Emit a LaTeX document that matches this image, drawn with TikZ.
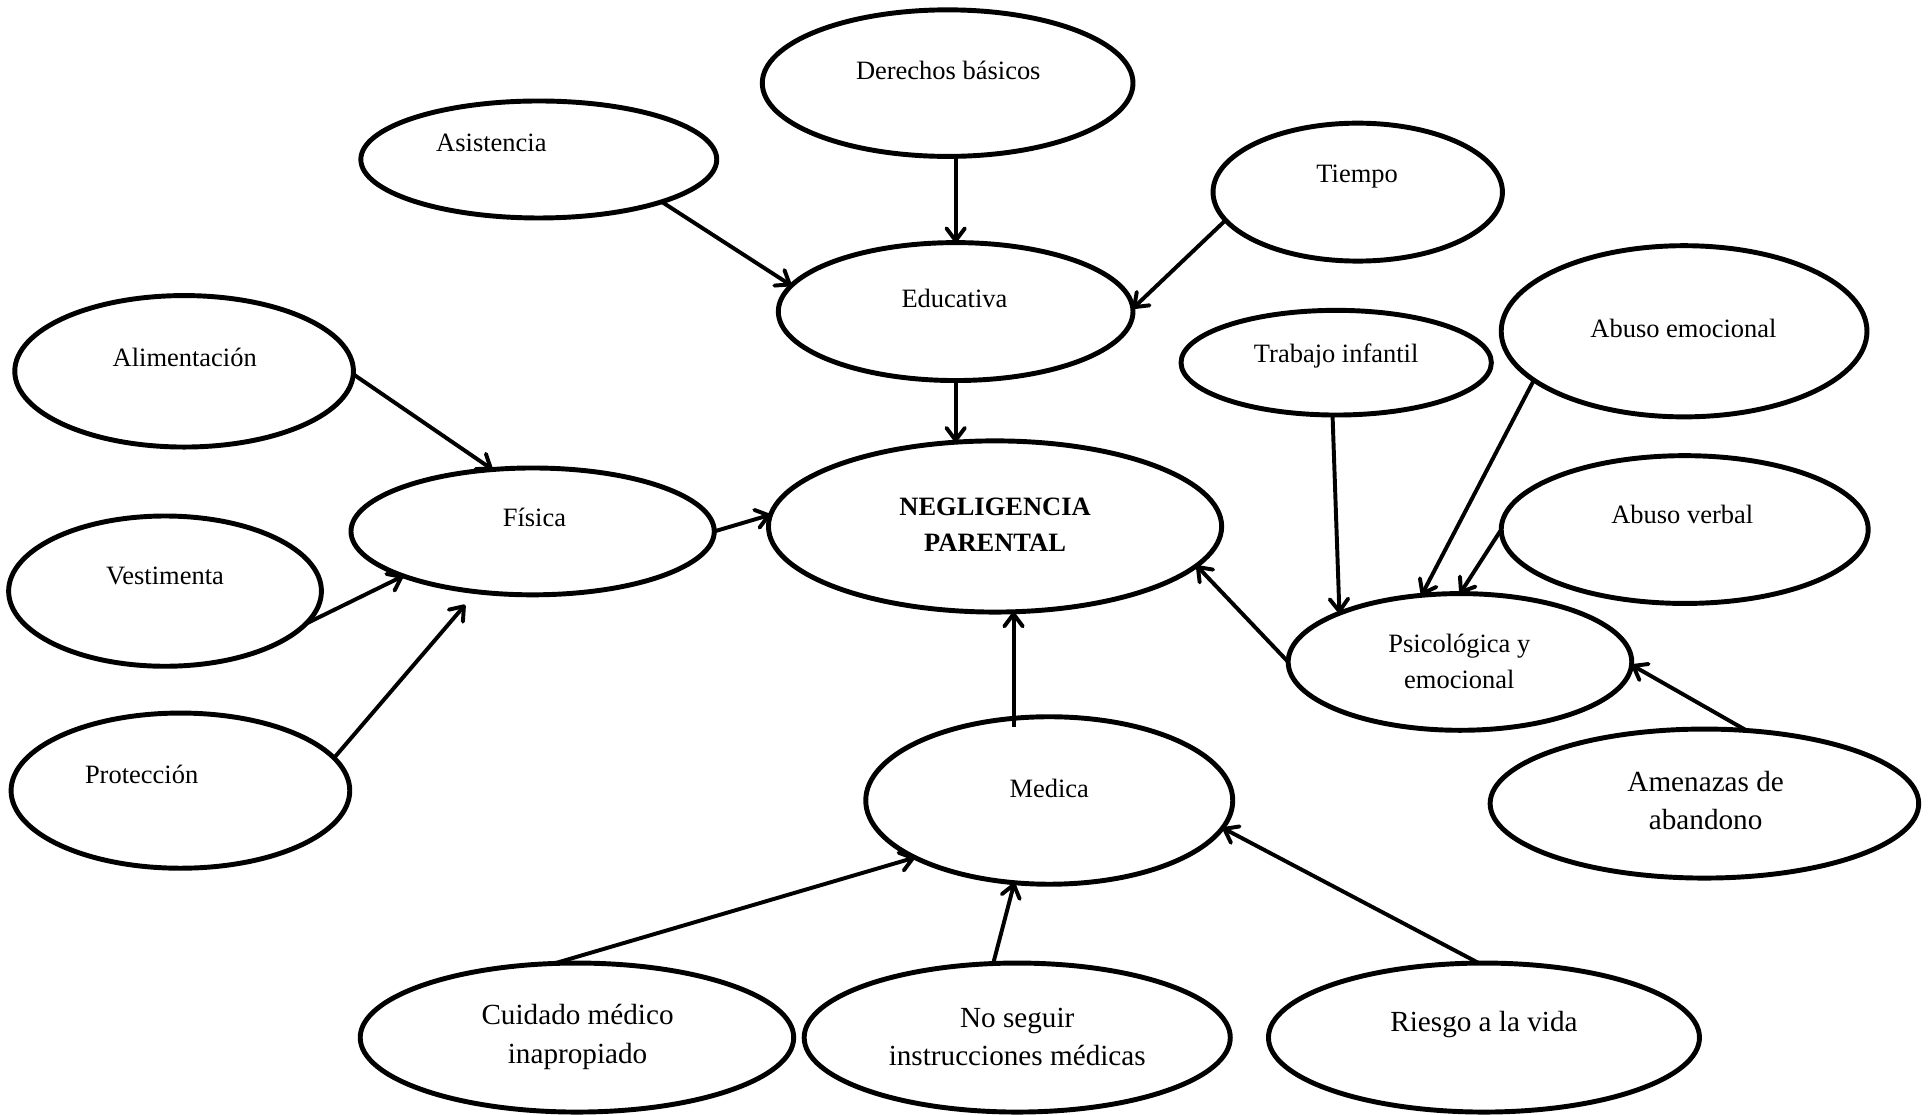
\documentclass[tikz,border=0pt]{standalone}
\usepackage{fontspec}
\setmainfont{Liberation Serif}
\usetikzlibrary{shapes.geometric,arrows.meta,calc}
\begin{document}
\begin{tikzpicture}[x=0.5pt,y=-0.5pt,
  ell/.style={draw,ellipse,line width=2pt,inner sep=0pt,outer sep=0pt},
  lab/.style={font=\fontsize{10.75}{14.5}\selectfont,align=center,inner sep=0pt},
  labL/.style={font=\fontsize{11.85}{15.75}\selectfont,align=center,inner sep=0pt},
  arr/.style={-{Straight Barb[length=5pt,width=7.5pt,round]},line width=1.6pt}]
\useasboundingbox (0,0) rectangle (1568,905);
% ellipses
\node[ell,minimum width=150.5pt,minimum height=59.5pt] (der) at (769.5,67.5) {};
\node[ell,minimum width=144.5pt,minimum height=47.5pt] (asis) at (437.5,129.5) {};
\node[ell,minimum width=117.5pt,minimum height=56pt] (tie) at (1102.5,156) {};
\node[ell,minimum width=144pt,minimum height=56pt] (edu) at (776,253) {};
\node[ell,minimum width=137.5pt,minimum height=61.5pt] (alim) at (149.5,301.5) {};
\node[ell,minimum width=126pt,minimum height=42.5pt] (trab) at (1085,294.5) {};
\node[ell,minimum width=148.5pt,minimum height=69.5pt] (abemo) at (1367.5,269) {};
\node[ell,minimum width=149pt,minimum height=60pt] (abverb) at (1368,430) {};
\node[ell,minimum width=147.5pt,minimum height=51.5pt] (fis) at (432.5,431.5) {};
\node[ell,minimum width=184pt,minimum height=69.5pt] (negl) at (808,427.5) {};
\node[ell,minimum width=127pt,minimum height=61pt] (vest) at (134,480) {};
\node[ell,minimum width=139.5pt,minimum height=55.5pt] (psi) at (1185.5,537.5) {};
\node[ell,minimum width=137.5pt,minimum height=63pt] (prot) at (146.5,642) {};
\node[ell,minimum width=149pt,minimum height=68pt] (med) at (852,650) {};
\node[ell,minimum width=174pt,minimum height=60.5pt] (amen) at (1384,652.5) {};
\node[ell,minimum width=176pt,minimum height=60.5pt] (cuid) at (468.5,842.5) {};
\node[ell,minimum width=173pt,minimum height=60.5pt] (noseg) at (826,842.5) {};
\node[ell,minimum width=175pt,minimum height=60.5pt] (ries) at (1205,842.5) {};
% texts
\node[lab] (tder) at (770,57) {Derechos básicos};
\node[lab] (tasis) at (399,116) {Asistencia};
\node[lab] (ttie) at (1102,143) {Tiempo};
\node[lab] (tedu) at (775,242) {Educativa};
\node[lab] (talim) at (150,290) {Alimentación};
\node[lab] (ttrab) at (1085,289) {Trabajo infantil};
\node[lab] (tabemo) at (1367,267) {Abuso emocional};
\node[lab] (tabverb) at (1366,418) {Abuso verbal};
\node[lab] (tfis) at (434,420) {Física};
\node[lab] (tnegl) at (808,426) {\textbf{NEGLIGENCIA}\\\textbf{PARENTAL}};
\node[lab] (tvest) at (134,468) {Vestimenta};
\node[lab] (tpsi) at (1185,537) {Psicológica y\\emocional};
\node[lab] (tprot) at (115,629) {Protección};
\node[lab] (tmed) at (852,640) {Medica};
\node[labL] (tamen) at (1385,650) {Amenazas de\\abandono};
\node[labL] (tcuid) at (469,842) {Cuidado médico\\inapropiado};
\node[labL] (tnoseg) at (826,842) {No seguir\\instrucciones médicas};
\node[labL] (tries) at (1205,832) {Riesgo a la vida};
% connectors
\draw[arr] (asis.-19.8) -- (edu.171.6);
\draw[arr] (der.south -| edu.north) -- (edu.north);
\draw[arr] (tie.192.1) -- (edu.1.2);
\draw[arr] (edu.south) -- (edu.south |- negl.115.2);
\draw[arr] (alim.-1.7) -- (fis.123.8);
\draw[arr] (vest.-13.3) -- (fis.199);
\draw[arr,shorten >=7pt] (prot.12.6) -- (fis.227);
\draw[arr] (fis.east) -- (negl.177.8);
\draw[arr] (trab.-94.4) -- (psi.158.5);
\draw[arr] (abemo.198.5) -- (psi.120.7);
\draw[arr] (abverb.west) -- (psi.north);
\draw[arr] (psi.west) -- (negl.-11.5);
\draw[arr] (amen.60.9) -- (psi.-1.7);
\coordinate (medtop) at ($(med.north)+(-29,8)$);
\draw[arr] (medtop) -- (medtop |- negl.south);
\draw[arr] (cuid.107.9) -- (med.203.4);
\draw[arr] (noseg.108.3) -- (med.247.5);
\draw[arr] (ries.94.6) -- (med.-9.7);
\end{tikzpicture}
\end{document}
